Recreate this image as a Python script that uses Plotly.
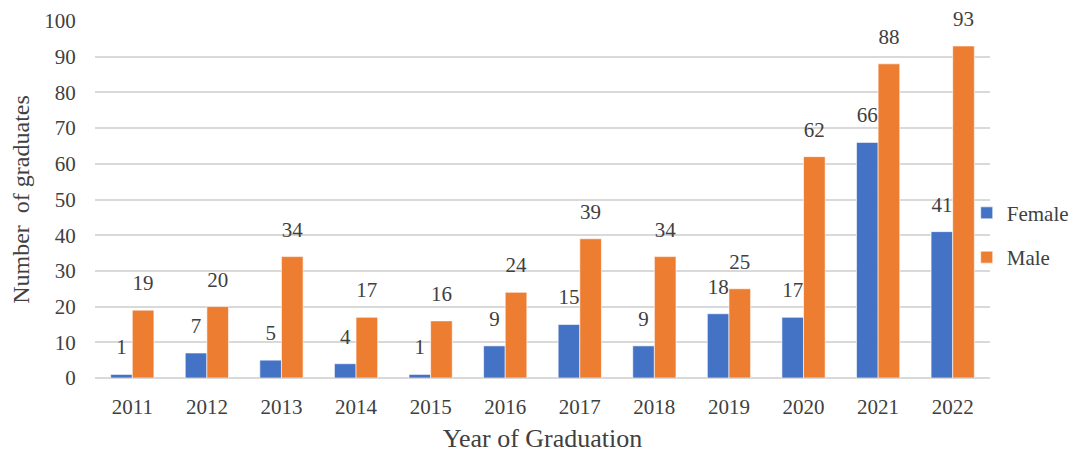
import plotly.graph_objects as go

years = ["2011", "2012", "2013", "2014", "2015", "2016", "2017", "2018", "2019", "2020", "2021", "2022"]
female = [1, 7, 5, 4, 1, 9, 15, 9, 18, 17, 66, 41]
male = [19, 20, 34, 17, 16, 24, 39, 34, 25, 62, 88, 93]

FONT = "Liberation Serif"
TXT = "#404040"

W, H = 1078, 454
ML, MR, MT, MB = 87, 94, 13, 84
BARGAP = 0.42

fig = go.Figure()
for name, vals, color in (("Female", female, "#4472C4"), ("Male", male, "#ED7D31")):
    fig.add_trace(go.Bar(
        x=years, y=vals, name=name, legendgroup=name, offsetgroup=name,
        marker=dict(color=color, line=dict(color="#FFFFFF", width=0.6)),
    ))
for name, vals in (("Female", female), ("Male", male)):
    fig.add_trace(go.Scatter(
        x=years, y=vals, mode="markers+text", text=[str(v) for v in vals],
        textposition="top center", offsetgroup=name, legendgroup=name,
        showlegend=False, hoverinfo="skip", cliponaxis=False,
        marker=dict(size=22, color="rgba(0,0,0,0)"),
        textfont=dict(family=FONT, size=21, color=TXT),
    ))

fig.update_layout(
    width=W, height=H,
    margin=dict(l=ML, r=MR, t=MT, b=MB),
    paper_bgcolor="white", plot_bgcolor="white",
    font=dict(family=FONT, size=21, color=TXT),
    barmode="group", bargap=BARGAP, bargroupgap=0,
    scattermode="group", scattergap=BARGAP,
    showlegend=True,
    legend=dict(x=0.974, xanchor="left", y=0.40, yanchor="middle",
                font=dict(family=FONT, size=21, color=TXT),
                tracegroupgap=14, traceorder="grouped",
                itemwidth=30, bgcolor="rgba(0,0,0,0)"),
    xaxis=dict(type="category", automargin=False,
               title=dict(text="Year of Graduation", font=dict(size=26), standoff=10),
               showgrid=False, showline=False, ticks="outside", ticklen=10,
               tickcolor="rgba(0,0,0,0)", tickfont=dict(size=21)),
    yaxis=dict(automargin=False,
               title=dict(text="Number  of graduates", font=dict(size=24), standoff=15),
               range=[0, 100], dtick=10, showgrid=True, gridcolor="#D9D9D9", gridwidth=1.5,
               zeroline=True, zerolinecolor="#D9D9D9", zerolinewidth=1.5,
               showline=False, ticks="outside", ticklen=14, tickcolor="rgba(0,0,0,0)",
               tickfont=dict(size=21)),
)

fig.write_html("out.html")
